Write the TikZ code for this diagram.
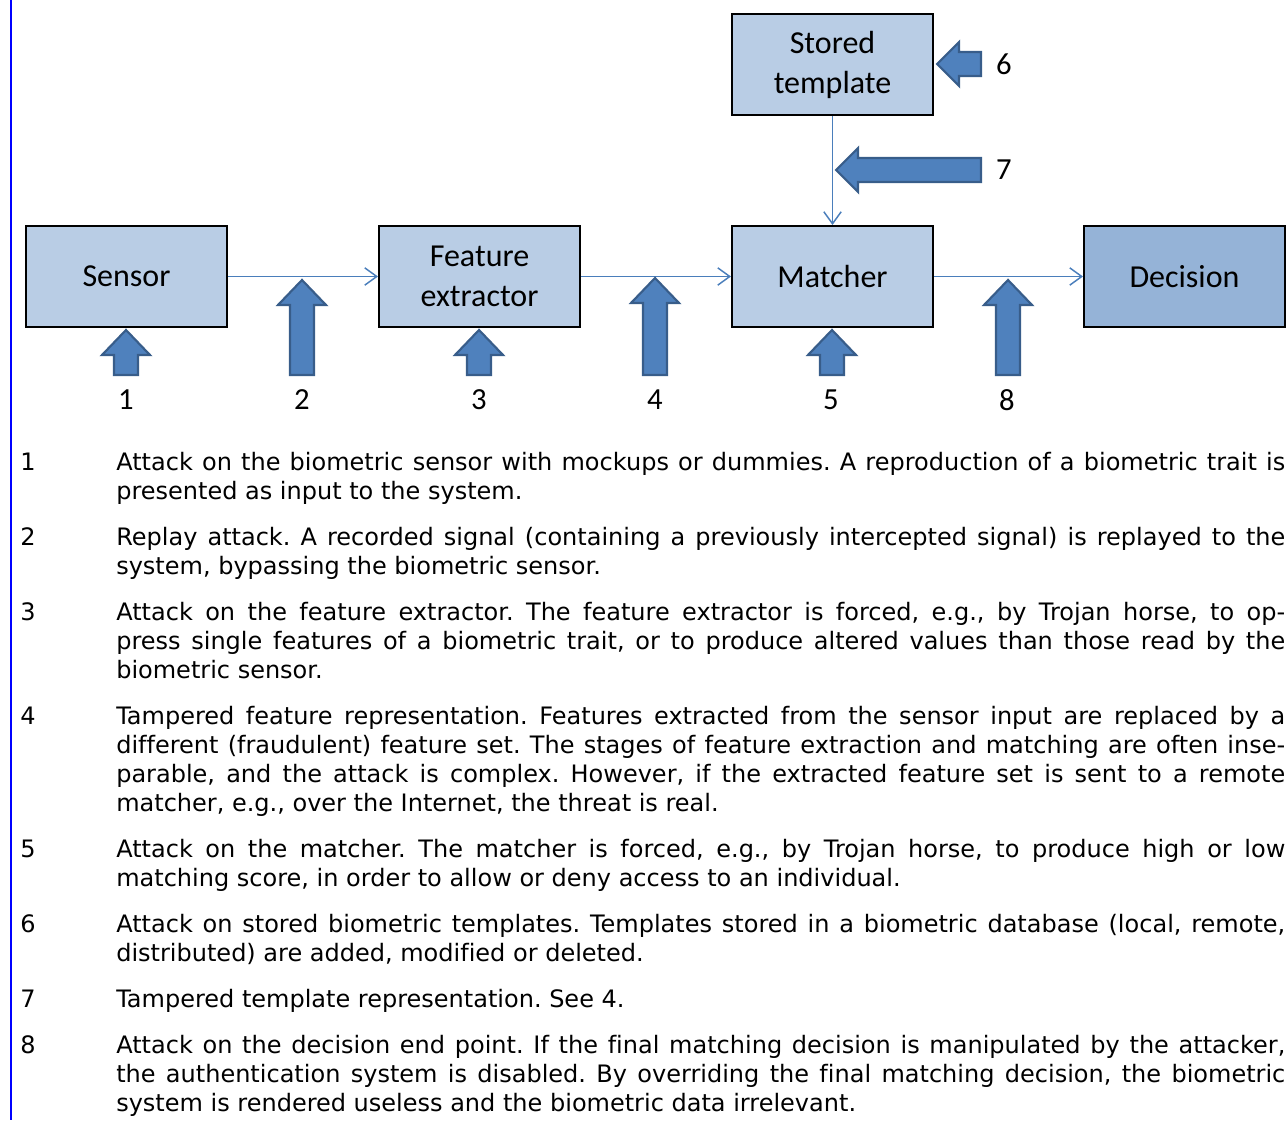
\documentclass[tikz,border=0pt]{standalone}
\usepackage{fontspec}
\setmainfont[Ligatures=NoCommon]{DejaVu Sans}
\newfontfamily\boxfont{Carlito}
\usetikzlibrary{positioning,arrows.meta}
\frenchspacing

\definecolor{boxfill}{HTML}{B9CDE5}
\definecolor{decfill}{HTML}{95B3D7}
\definecolor{blockfill}{HTML}{4F81BD}
\definecolor{blockline}{HTML}{385D8A}
\definecolor{flowline}{HTML}{4A7EBB}

\newcommand{\jline}[1]{\makebox[876.75pt][s]{#1}}
\newcommand{\attnum}[1]{\strut\makebox[72pt][l]{#1}}
\newcommand{\attack}[2]{\hangindent=72pt\hangafter=1\noindent\attnum{#1}#2\par}

\begin{document}
\begin{tikzpicture}[x=0.75pt,y=-0.75pt,
  stage/.style={draw=black,line width=1.5pt,fill=boxfill,minimum width=150.75pt,
    minimum height=75.75pt,inner sep=0pt,align=center,
    font=\boxfont\fontsize{24}{29.5}\selectfont},
  flow/.style={draw=flowline,line width=1.1pt,-{Straight Barb[length=9pt,width=13pt]}},
  block/.style={draw=blockline,fill=blockfill,line width=1.6pt,line join=miter},
  num/.style={inner sep=0pt,font=\boxfont\fontsize{23}{28}\selectfont},
  desc/.style={anchor=north west,inner sep=0pt,text width=948.75pt,align=justify,
    font=\fontsize{18}{21.75}\selectfont}]
\useasboundingbox (0,0) rectangle (1287,1120);
\draw[blue,line width=1.5pt] (11,0) -- (11,1120);

% stages
\node[stage] (sensor) at (126.5,276.5) {Sensor};
\node[stage] (feat) at (479.5,276.5) {Feature\\extractor};
\node[stage] (match) at (832.5,276.5) {Matcher};
\node[stage,fill=decfill] (dec) at (1184.5,276.5) {Decision};
\node[stage] (store) at (832.5,65) {Stored\\template};

\draw[flow] (sensor) -- (feat);
\draw[flow] (feat) -- (match);
\draw[flow] (match) -- (dec);
\draw[flow] (store) -- (match);

% attack points
\foreach \x/\t in {126/330,302/280,479/330,655/278,832/330,1008/280}
  \draw[block] (\x-12,375) -- (\x-12,\t+25) -- (\x-24,\t+25) -- (\x,\t)
    -- (\x+24,\t+25) -- (\x+12,\t+25) -- (\x+12,375) -- cycle;
\foreach \y/\t in {64/937,170/836}
  \draw[block] (981,\y-12) -- (\t+22,\y-12) -- (\t+22,\y-22) -- (\t,\y)
    -- (\t+22,\y+22) -- (\t+22,\y+12) -- (981,\y+12) -- cycle;

\foreach \x/\n in {126/1,302/2,479/3,655/4,831/5,1007/8}
  \node[num] (n\n) at (\x,400) {\n};
\node[num] (n6) at (1004,64) {6};
\node[num] (n7) at (1004,170) {7};

% list of attacks
\node[desc] (attacks) at (20,450.2) {\setlength{\parskip}{12.75pt}%
\attack{1}{\jline{Attack on the biometric sensor with mockups or dummies. A reproduction of a biometric trait is}\newline
presented as input to the system.}
\attack{2}{\jline{Replay attack. A recorded signal (containing a previously intercepted signal) is replayed to the}\newline
system, bypassing the biometric sensor.}
\attack{3}{\jline{Attack on the feature extractor. The feature extractor is forced, e.g., by Trojan horse, to op-}\newline
\jline{press single features of a biometric trait, or to produce altered values than those read by the}\newline
biometric sensor.}
\attack{4}{\jline{Tampered feature representation. Features extracted from the sensor input are replaced by a}\newline
\jline{different (fraudulent) feature set. The stages of feature extraction and matching are often inse-}\newline
\jline{parable, and the attack is complex. However, if the extracted feature set is sent to a remote}\newline
matcher, e.g., over the Internet, the threat is real.}
\attack{5}{\jline{Attack on the matcher. The matcher is forced, e.g., by Trojan horse, to produce high or low}\newline
matching score, in order to allow or deny access to an individual.}
\attack{6}{\jline{Attack on stored biometric templates. Templates stored in a biometric database (local, remote,}\newline
distributed) are added, modified or deleted.}
\attack{7}{Tampered template representation. See 4.}
\attack{8}{\jline{Attack on the decision end point. If the final matching decision is manipulated by the attacker,}\newline
\jline{the authentication system is disabled. By overriding the final matching decision, the biometric}\newline
system is rendered useless and the biometric data irrelevant.}};
\end{tikzpicture}
\end{document}
